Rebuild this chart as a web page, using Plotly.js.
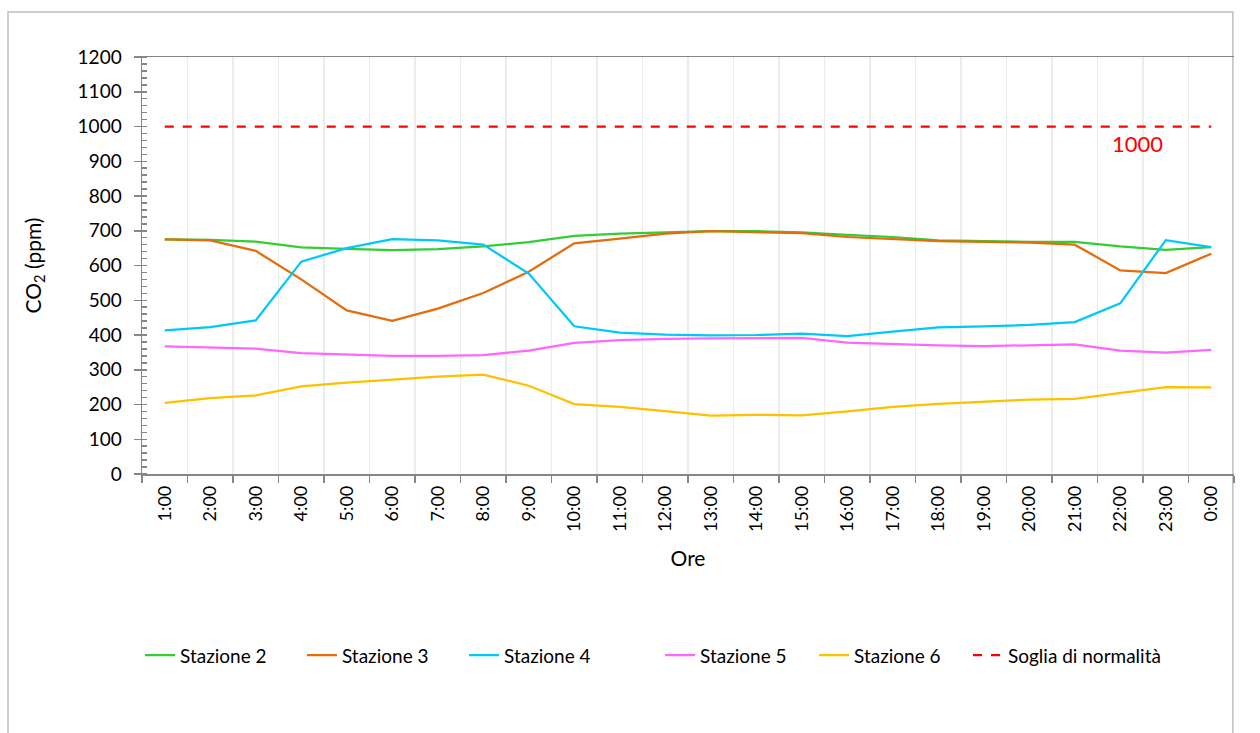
<!DOCTYPE html>
<html>
<head>
<meta charset="utf-8">
<script src="https://cdn.plot.ly/plotly-3.0.1.min.js"></script>
<style>html,body{margin:0;padding:0;background:#fff;}#chart{width:1260px;height:733px;}</style>
</head>
<body>
<div id="chart"></div>
<script>
const hours = ["1:00","2:00","3:00","4:00","5:00","6:00","7:00","8:00","9:00","10:00","11:00","12:00","13:00","14:00","15:00","16:00","17:00","18:00","19:00","20:00","21:00","22:00","23:00","0:00"];
const stazione2 = [675,674,669,652,648,644,647,655,667,685,692,696,699,699,695,688,682,672,669,668,668,655,645,653];
const stazione3 = [675,672,642,560,471,441,476,521,582,664,677,692,699,695,693,682,675,670,668,666,660,586,578,634];
const stazione4 = [413,423,442,611,650,676,672,660,577,425,407,401,399,400,404,397,410,422,425,429,437,491,673,653];
const stazione5 = [367,363,361,348,343,340,340,342,355,377,385,389,390,390,392,378,373,370,368,371,373,355,349,357];
const stazione6 = [205,218,226,252,263,272,280,286,254,201,193,181,168,170,169,180,193,202,209,214,216,234,250,249];
const soglia = hours.map(() => 1000);
const sogliaLabel = "1000";

const FONT = "Lato, 'Open Sans', sans-serif";
const mk = (name, y, color, lg, dash) => ({
  type: "scatter", mode: "lines", name: name, x: hours, y: y, legend: lg,
  line: {color: color, width: 2.25, dash: dash || "solid"}
});

const data = [
  mk("Stazione 2", stazione2, "#33cc33", "legend"),
  mk("Stazione 3", stazione3, "#e46c0a", "legend2"),
  mk("Stazione 4", stazione4, "#00c8f8", "legend3"),
  mk("Stazione 5", stazione5, "#ff66ff", "legend4"),
  mk("Stazione 6", stazione6, "#ffc000", "legend5"),
  mk("Soglia di normalità", soglia, "#ff0000", "legend6", "dash")
];

const lgPos = [-0.0018, 0.1465, 0.2949, 0.4744, 0.6154, 0.7564];
const lg = (x) => ({orientation: "h", x: x, xanchor: "left", y: -0.435, yanchor: "middle",
  bgcolor: "rgba(0,0,0,0)", font: {family: FONT, size: 19, color: "#000"}});

const layout = {
  width: 1260, height: 733,
  margin: {l: 142, r: 26, t: 57, b: 259},
  paper_bgcolor: "#fff", plot_bgcolor: "#fff",
  font: {family: FONT, size: 19, color: "#000"},
  showlegend: true,
  legend: lg(lgPos[0]), legend2: lg(lgPos[1]), legend3: lg(lgPos[2]),
  legend4: lg(lgPos[3]), legend5: lg(lgPos[4]), legend6: lg(lgPos[5]),
  xaxis: {
    type: "category", range: [-0.5, 23.5],
    tickson: "boundaries", ticks: "outside", ticklen: 7, tickcolor: "#868686", tickwidth: 1.5,
    showline: true, linecolor: "#868686", linewidth: 1.5, mirror: true,
    showgrid: true, gridcolor: "#ececec", gridwidth: 1.5,
    tickangle: -90, ticklabelstandoff: 3, tickfont: {family: FONT, size: 18, color: "#000"},
    title: {text: "Ore", font: {family: FONT, size: 21, color: "#000"}, standoff: 20},
    zeroline: false
  },
  yaxis: {
    range: [0, 1200], dtick: 100, tick0: 0,
    ticks: "outside", ticklen: 7, tickcolor: "#868686", tickwidth: 1.5,
    showline: true, linecolor: "#868686", linewidth: 1.5,
    showgrid: false, zeroline: false, ticklabelstandoff: 8,
    minor: {dtick: 20, ticks: "inside", ticklen: 5, tickcolor: "#868686", tickwidth: 1.5, showgrid: false},
    tickfont: {family: FONT, size: 19, color: "#000"},
    title: {text: "CO<sub>2</sub> (ppm)", font: {family: FONT, size: 21, color: "#000"}, standoff: 30}
  },
  shapes: [{
    type: "rect", xref: "paper", yref: "paper",
    x0: -0.1227, x1: 0.999, y0: -0.75, y1: 1.108,
    line: {color: "#bfbfbf", width: 1.5}, fillcolor: "rgba(0,0,0,0)", layer: "below"
  }],
  annotations: [{
    x: 21.5, y: 1000, xref: "x", yref: "y", text: sogliaLabel, showarrow: false,
    yshift: -17, xshift: -6, font: {family: FONT, size: 22, color: "#ff0000"}
  }]
};

Plotly.newPlot("chart", data, layout, {staticPlot: true, displayModeBar: false});
</script>
</body>
</html>
